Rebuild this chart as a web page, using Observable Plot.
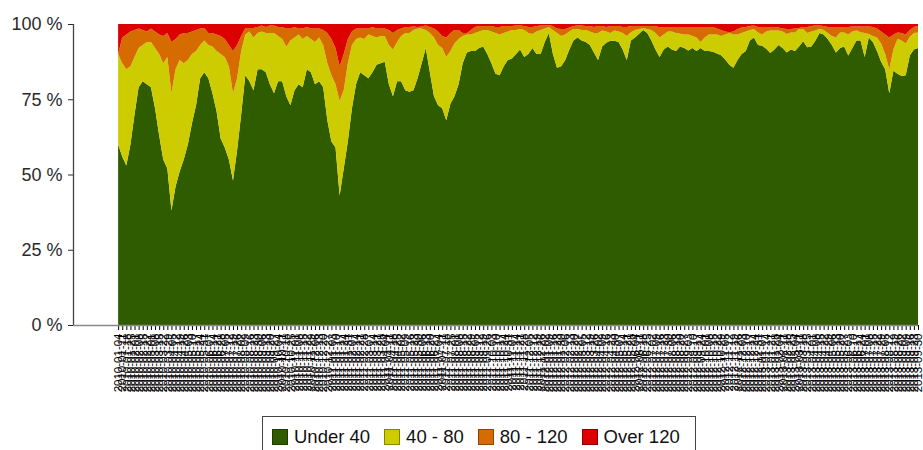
<!DOCTYPE html>
<html>
<head>
<meta charset="utf-8">
<script src="https://cdn.jsdelivr.net/npm/d3@7"></script>
<script src="https://cdn.jsdelivr.net/npm/@observablehq/plot@0.6"></script>
<style>
  html, body { margin: 0; padding: 0; background: #fff; }
  #wrap { position: relative; width: 923px; height: 450px; overflow: hidden; font-family: "Liberation Sans", Arial, sans-serif; }
  #legend { position: absolute; left: 262px; top: 416px; width: 434px; height: 40px; border: 1.5px solid #444; box-sizing: border-box; display: flex; align-items: flex-start; padding: 9px 0 0 9px; gap: 0; }
  .item { display: flex; align-items: center; font-size: 18.5px; color: #111; margin-right: 14px; white-space: nowrap; }
  .sw { width: 16px; height: 16px; margin-right: 6px; box-sizing: border-box; border: 1px solid rgba(0,0,0,0.35); }
</style>
</head>
<body>
<div id="wrap">
  <div id="chart"></div>
  <div id="legend"></div>
</div>
<script>
// Series names and colours
const seriesNames = ["Under 40", "40 - 80", "80 - 120", "Over 120"];
const seriesColors = ["#305c00", "#cccc00", "#d66c00", "#dc0000"];

// Cumulative share (%) at each category
const under40 = [
  60,56,53,60,70,79,81,80,79,72, 63,55,52,38,46,51,55,60,67,73, 82,84,82,77,71,62,59,55,48,58, 70,83,81,78,85,85,84,80,77,
  81,81,76,73,78,80,79,85,84,80, 81,79,68,61,59,43,52,61,72,80, 84,83,82,84,86.5,87,87.5,80,76,81, 81,78,77.5,78,82,87,92,84,76,
  73,72,68,73.5,76,80,87,90.5,91,91, 92,92.5,90,87,83.5,83,86,88,88.5,90, 91.5,89,90,92,90,90,94,97,90,85.5, 86,88,91.5,94.5,95.5,94.5,94,93,90.5,
  88,92.5,93.8,94.4,94.4,94,91.5,88,94.5,95.5, 96.8,98,97,94.5,91.5,89,91.5,92.5,91.5,91, 92.5,92,91.2,92,91,92,91,91,90.8,90.2, 89.6,88.2,86.5,85.5,88,90,91,94.5,95.5,
  93,92.8,91.8,90.4,91.5,93,92,90.5,91.5,91, 92.5,94.3,92.3,92.5,94.5,97,96.5,95,93,90.5, 92,92.5,89.5,92,94.5,94.5,89,95.5,94,91, 87.5,85,77,84.5,83.5,82.7,83,89.5,91.5,92
];
const under80 = [
  90,87,85,86,89,92,93,94,94,92, 90,87,89,77,85,88,87,88,90,91, 93,94.5,93,92.5,91,90,89,86,77,82, 91,96.5,97.5,95.5,97,97.5,97,97,97,
  96,95,92.5,94.5,95.5,96.5,95,96,95,94, 95.5,93,87,83,80,74.5,78,87,93,95, 95.5,95,96.5,96,95.5,96,96,93,91.5,94, 96,97,97,98,98.5,98.5,98,97,95.5,
  93,92,89,91,93.5,95,96,96.5,96.5,97, 97.5,98,98,97.5,97,96.5,97,97.5,98,98, 98.3,98,97,96.7,97.5,98,98.5,99,98,97, 96,96.5,97.5,98.3,98.3,98,98,97.5,97,
  97,97.8,97.5,97,97.8,97.5,97,96,97.3,98, 98.3,98.6,98.3,98,97,95.5,96.5,97.5,97.5,97, 96.8,96.5,96.5,96,95.5,94,95.5,96.5,96.5,96.5, 96,96.5,97,96.5,96.5,97,97.5,98,98.3,
  97.2,96.5,97.5,97.8,97.8,97.8,97.5,96.7,97.2,97.2, 98.3,98.3,97,97.5,97.8,98.4,98,97,96,95.5, 97.2,97.2,96.5,97.5,97.8,97.3,97,96.7,96,95.5, 93.5,90,85,91.5,95,94.5,93.5,95.8,97,97.2
];
const under120 = [
  90,95.5,96.5,97.5,98,98.5,98,97.5,98.5,97.5, 96.5,96,97,94,95,96.5,97,97,97.5,98, 98.5,98.7,97,97,96.5,96,95,93,91,93, 96,98.7,98.7,98.7,99,99.5,99,99.5,99.5,
  99,99,98.5,98.5,99,98.5,98.5,99,98.5,98.5, 98.5,98,97,95,92,86,90,95,97.5,98.5, 98.5,98.5,98.5,99,98.5,98.5,98.5,98,97,98, 98.5,99,99,99.2,99,99.2,99.5,99,98.5,
  97.5,96,95.5,97,98,98,97,97,98,99, 99.3,99.3,99.3,99.3,99,99,99.3,99.3,99.3,99.5, 99.5,99.3,99,99,99.3,99.5,99.5,99.7,99.3,98.5, 98.3,98.3,98.8,99.3,99.5,99.5,99.3,99.3,99,
  99.3,99.3,99,99.3,99.3,99.3,99,99,99.3,99.3, 99.3,99.3,99.3,99.3,99.3,98.8,99,99,99,99, 99,99,99,99,99,99,99,99,99,98.5, 98,97.5,97.3,97.5,98.3,98.8,99,99.3,99.5,
  99,99,99,99,99,98.8,98.5,98.3,98.3,98.5, 98.7,99,99,99.3,99.5,99.5,99.3,99,98.8,98.8, 98.8,99,99,99.2,99.2,99.2,99.2,99.2,99,98.5, 97.5,96.5,95.5,96.5,97.2,97,96.5,98,99,99.3
];

// Category labels (weekly dates; illegible in the original because they overlap)
const N = under40.length;
const startDate = new Date(Date.UTC(2010, 0, 4));
const fmt = d3.utcFormat("%Y-%m-%d");
const categories = d3.range(N).map(i => fmt(d3.utcDay.offset(startDate, 7 * i)));

// Y tick values
const yTicks = [0, 0.25, 0.5, 0.75, 1];

const rows = [];
for (let i = 0; i < N; i++) {
  const parts = [under40[i], under80[i] - under40[i], under120[i] - under80[i], 100 - under120[i]];
  parts.forEach((v, k) => rows.push({i, series: seriesNames[k], value: v}));
}

const xPad = 11;
const chart = Plot.plot({
  width: 923,
  height: 410,
  marginLeft: 73,
  marginRight: 5,
  marginTop: 24,
  marginBottom: 85,
  style: {fontFamily: "'Liberation Sans', Arial, sans-serif", background: "white", overflow: "visible"},
  x: {type: "linear", domain: [-xPad, N - 1]},
  y: {domain: [0, 1]},
  color: {domain: seriesNames, range: seriesColors},
  marks: [
    Plot.areaY(rows, Plot.stackY({x: "i", y: "value", z: "series", fill: "series", offset: "normalize", order: null})),
    Plot.axisY({ticks: yTicks, tickFormat: d => Math.round(d * 100) + " %", fontSize: 18, tickSize: 5, tickPadding: 6, color: "#2a2a2a", label: null}),
    Plot.axisX({ticks: d3.range(N), tickFormat: i => categories[i], tickRotate: -90, fontSize: 11.5, tickSize: 5, tickPadding: 3, color: "#000", label: null}),
    Plot.ruleX([-xPad], {stroke: "#444", strokeWidth: 1.3}),
    Plot.ruleY([0], {stroke: "#888", strokeWidth: 1.5})
  ]
});
document.getElementById("chart").appendChild(chart);

const legend = document.getElementById("legend");
seriesNames.forEach((name, k) => {
  const item = document.createElement("div");
  item.className = "item";
  const sw = document.createElement("span");
  sw.className = "sw";
  sw.style.background = seriesColors[k];
  item.appendChild(sw);
  item.appendChild(document.createTextNode(name));
  legend.appendChild(item);
});
</script>
</body>
</html>
